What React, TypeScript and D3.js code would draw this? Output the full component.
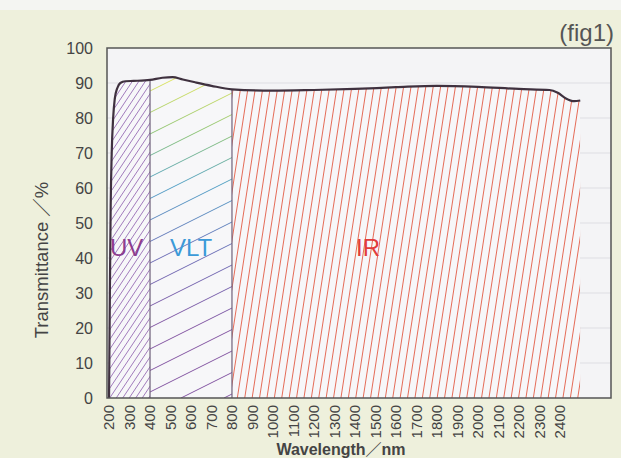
import React from 'react'
import * as d3 from 'd3'

// spectrum
const wavelengths = [200, 204, 208, 213, 220, 228, 240, 255, 280, 320, 400, 460, 510, 560, 620, 700, 800, 1000, 1200, 1400, 1600, 1800, 2000, 2200, 2350, 2390, 2430, 2470, 2500]
const transmittance = [0, 30, 55, 70, 80, 85.5, 88.5, 90, 90.5, 90.6, 90.9, 91.5, 91.7, 91.0, 90.2, 89.2, 88.2, 87.8, 88.0, 88.3, 88.8, 89.2, 88.9, 88.3, 88.0, 87.2, 85.6, 84.8, 85.0]

const xTicks = d3.range(200, 2401, 100)
const yTicks = d3.range(0, 101, 10)

const regions = [
  { name: 'UV', from: 200, to: 400, color: '#8d3d8f', hatch: '#9c74b8', slope: 1.5, step: 6.5 },
  { name: 'VLT', from: 400, to: 800, color: '#3b9ad8', hatch: 'url(#vltGrad)', slope: 0.5, step: 43 },
  { name: 'IR', from: 800, to: 2500, color: '#e23c3c', hatch: '#e4644f', slope: 6.5, step: 7.4 },
]
const labelAt = { UV: 110, VLT: 170, IR: 356 }

const W = 621, H = 458
const margin = { left: 107, right: 10, top: 48, bottom: 60 }

export default function App() {
  const x = d3.scaleLinear().domain([190, 2650]).range([margin.left, W - margin.right])
  const y = d3.scaleLinear().domain([0, 100]).range([H - margin.bottom, margin.top])
  const pts = wavelengths.map((w, i) => [w, transmittance[i]] as [number, number])

  const line = d3.line<[number, number]>().x(d => x(d[0])).y(d => y(d[1])).curve(d3.curveMonotoneX)
  const area = d3.area<[number, number]>().x(d => x(d[0])).y0(y(0)).y1(d => y(d[1])).curve(d3.curveMonotoneX)

  const top = y(100), bottom = y(0), h = bottom - top

  // hatch lines, going up to the right, anchored on the bottom edge
  const hatchLines = (x0: number, x1: number, slope: number, step: number) => {
    const run = h / slope
    return d3.range(x0 - run, x1 + step, step).map(c => [c, bottom, c + run, top])
  }

  const tAt = (w: number) => transmittance[wavelengths.indexOf(w)]

  return (
    <svg width={W} height={H} style={{ position: 'absolute', left: 0, top: 0 }} fontFamily="'Liberation Sans', Arial, 'Noto Sans CJK JP', sans-serif">
      <defs>
        <clipPath id="under"><path d={area(pts) || ''} /></clipPath>
        {regions.map(r => (
          <clipPath key={r.name} id={`reg-${r.name}`}>
            <rect x={x(r.from)} y={top} width={x(r.to) - x(r.from)} height={h} />
          </clipPath>
        ))}
        <linearGradient id="vltGrad" gradientUnits="userSpaceOnUse" x1="0" y1={y(92)} x2="0" y2={bottom}>
          <stop offset="0" stopColor="#e4e65a" />
          <stop offset="0.18" stopColor="#86c070" />
          <stop offset="0.34" stopColor="#4a9cc4" />
          <stop offset="0.55" stopColor="#6668b4" />
          <stop offset="0.78" stopColor="#7e4e9e" />
          <stop offset="1" stopColor="#7e4e9e" />
        </linearGradient>
      </defs>

      <rect width={W} height={H} fill="#eef0dc" />
      <rect width={W} height={10} fill="#f4f5f2" />

      <rect x={margin.left} y={top} width={W - margin.right - margin.left} height={h} fill="#f4f4f6" />
      {yTicks.slice(1, -1).map(t => (
        <line key={t} x1={margin.left} x2={W - margin.right} y1={y(t)} y2={y(t)} stroke="#dedee3" strokeWidth={1} />
      ))}

      <g clipPath="url(#under)">
        {regions.map(r => (
          <g key={r.name} clipPath={`url(#reg-${r.name})`}>
            <rect x={x(r.from)} y={top} width={x(r.to) - x(r.from)} height={h} fill="#f7f7f9" />
            {hatchLines(x(r.from), x(r.to), r.slope, r.step).map((l, i) => (
              <line key={i} x1={l[0]} y1={l[1]} x2={l[2]} y2={l[3]} stroke={r.hatch} strokeWidth={0.95} />
            ))}
          </g>
        ))}
      </g>

      {[400, 800].map(w => (
        <line key={w} x1={x(w)} x2={x(w)} y1={bottom} y2={y(tAt(w))} stroke="#6e607a" strokeWidth={1.2} />
      ))}

      <path d={line(pts) || ''} fill="none" stroke="#3f313f" strokeWidth={2.2} />

      <rect x={margin.left} y={top} width={W - margin.right - margin.left} height={h} fill="none" stroke="#555" strokeWidth={1.5} />

      {regions.map(r => (
        <text key={r.name} x={labelAt[r.name]} y={y(43) + 8} fontSize={24} fill={r.color}>{r.name}</text>
      ))}

      {yTicks.map(t => (
        <text key={t} x={93} y={y(t)} dy="0.35em" textAnchor="end" fontSize={16} fill="#444">{t}</text>
      ))}
      {xTicks.map(t => (
        <text key={t} transform={`translate(${x(t)},${bottom + 7}) rotate(-90)`} dy="0.35em" textAnchor="end" fontSize={15} fill="#444">{t}</text>
      ))}

      <text transform={`translate(48,260) rotate(-90)`} textAnchor="middle" fontSize={18.5} fill="#444">Transmittance ／%</text>
      <text x={341} y={455} textAnchor="middle" fontSize={16} fontWeight="bold" fill="#444">Wavelength／nm</text>
      <text x={614} y={41} textAnchor="end" fontSize={24} fill="#555">(fig1)</text>
    </svg>
  )
}
